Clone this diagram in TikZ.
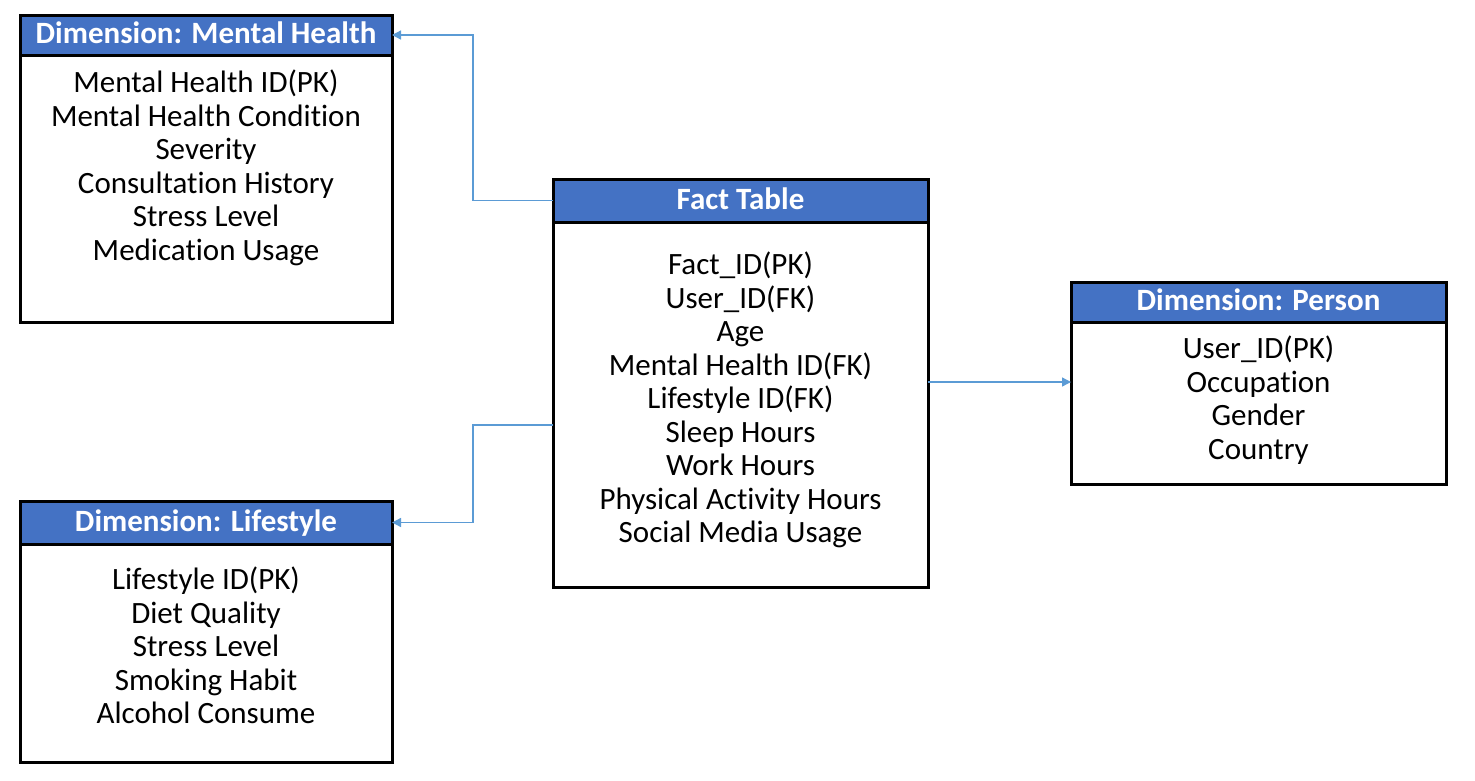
\documentclass[tikz,border=0pt]{standalone}
\usepackage{fontspec}
\setmainfont{Carlito}[Ligatures=NoCommon]
\usetikzlibrary{positioning,arrows.meta}
\definecolor{hdblue}{HTML}{4472C4}
\definecolor{lnblue}{HTML}{5B9BD5}
\tikzset{tblhd/.style={draw, line width=3pt, outer sep=0pt, inner sep=0pt, fill=hdblue, text=white, font=\bfseries\fontsize{31}{33}\selectfont, text depth=4.5pt, anchor=north west}}
\tikzset{tblbd/.style={draw, line width=3pt, outer sep=0pt, inner sep=0pt}}
\tikzset{tbltx/.style={inner sep=0pt, align=center, font=\fontsize{31}{33.5}\selectfont}}
\tikzset{link/.style={draw=lnblue, line width=1.3pt, -{Triangle[length=9pt,width=9pt]}}}

\begin{document}
\begin{tikzpicture}[x=1pt,y=-1pt]
\useasboundingbox (0,0) rectangle (1475,780);
% dimension: mental health
\node[tblhd, minimum width=372pt, minimum height=40pt] (mhhd) at (20,15) {Dimension: Mental Health};
\node[tblbd, minimum width=372pt, minimum height=267pt, below=0pt of mhhd] (mhbd) {};
\node[tbltx, below=15pt of mhhd] (mhtx) {Mental Health ID(PK)\\Mental Health Condition\\Severity\\Consultation History\\Stress Level\\Medication Usage};
% fact table
\node[tblhd, minimum width=375pt, minimum height=43pt] (facthd) at (553,179) {Fact Table};
\node[tblbd, minimum width=375pt, minimum height=365pt, below=0pt of facthd] (factbd) {};
\node[tbltx, below=30pt of facthd] (facttx) {Fact\_ID(PK)\\User\_ID(FK)\\Age\\Mental Health ID(FK)\\Lifestyle ID(FK)\\Sleep Hours\\Work Hours\\Physical Activity Hours\\Social Media Usage};
% dimension: person
\node[tblhd, minimum width=375pt, minimum height=40pt] (pshd) at (1071,282) {Dimension: Person};
\node[tblbd, minimum width=375pt, minimum height=162pt, below=0pt of pshd] (psbd) {};
\node[tbltx, below=14pt of pshd] (pstx) {User\_ID(PK)\\Occupation\\Gender\\Country};
% dimension: lifestyle
\node[tblhd, minimum width=372pt, minimum height=43pt] (lshd) at (20,501) {Dimension: Lifestyle};
\node[tblbd, minimum width=372pt, minimum height=218pt, below=0pt of lshd] (lsbd) {};
\node[tbltx, below=23pt of lshd] (lstx) {Lifestyle ID(PK)\\Diet Quality\\Stress Level\\Smoking Habit\\Alcohol Consume};
% links
\draw[link] (facthd.west) -- ++(-80,0) |- (mhhd.east);
\draw[link] ([yshift=-20.5pt]factbd.west) -- ++(-80,0) |- (lshd.east);
\draw[link] ([yshift=22.5pt]factbd.east) -- ([yshift=22.5pt]factbd.east -| psbd.west);
\end{tikzpicture}
\end{document}
